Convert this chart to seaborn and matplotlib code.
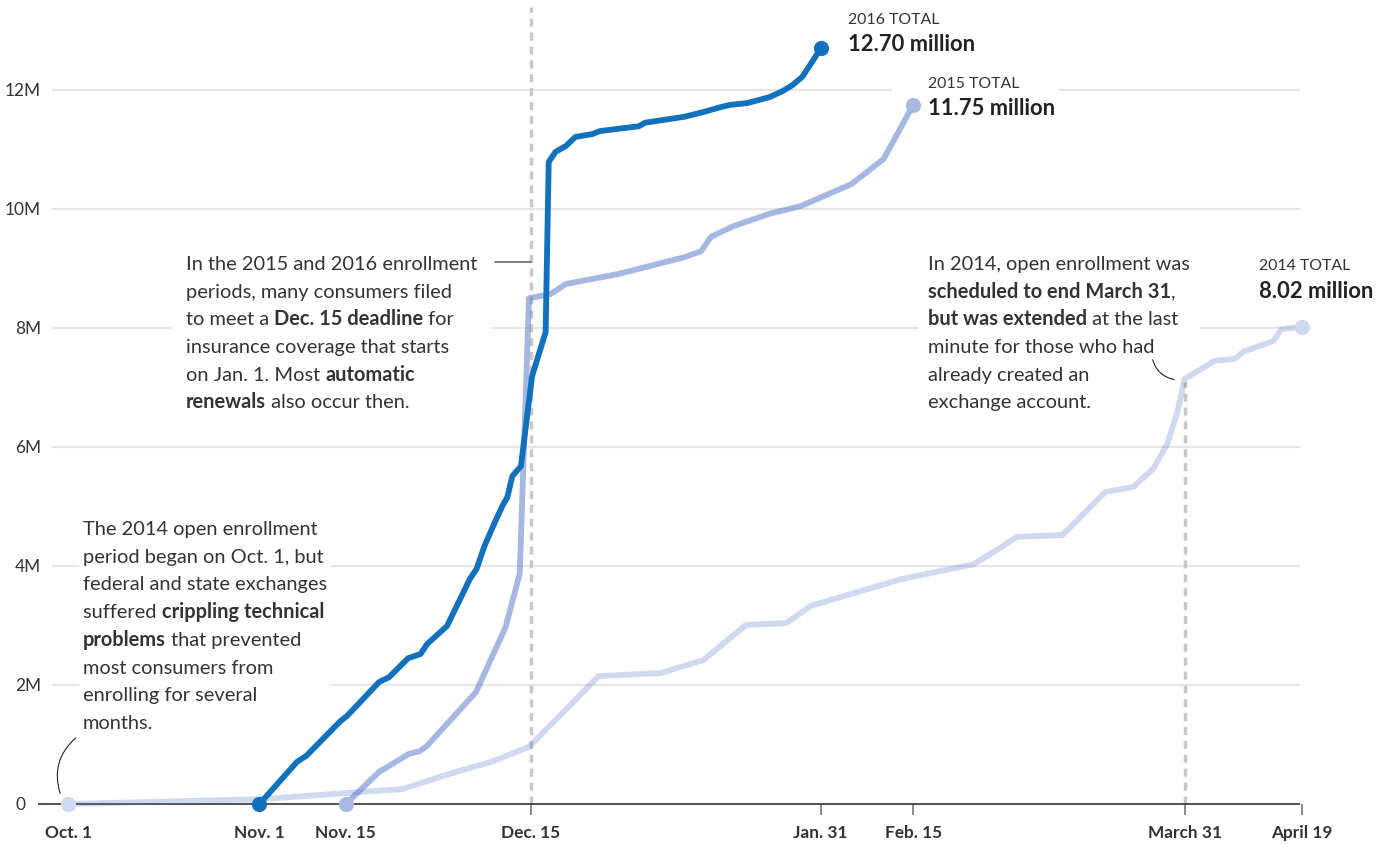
import numpy as np
import pandas as pd
import matplotlib
matplotlib.use('Agg')
import matplotlib.pyplot as plt
import matplotlib.transforms as mtransforms
from matplotlib.patches import Rectangle
import seaborn as sns

# days counted from Oct. 1, enrollment in millions
days_2014 = [0, 31, 54.1, 63.2, 68.6, 74.7, 86.0, 96.0, 103.0, 109.9, 116.4, 120.4, 135.1, 146.8, 150.9,
             153.8, 161.2, 168.1, 172.7, 175.9, 178.2, 179.9, 181, 185.9, 189.1, 190.7, 195.4, 196.7, 200]
enr_2014 = [0, 0.08, 0.25, 0.55, 0.71, 0.96, 2.15, 2.20, 2.42, 3.01, 3.04, 3.33, 3.78, 4.03, 4.29,
            4.49, 4.52, 5.24, 5.33, 5.63, 6.05, 6.61, 7.14, 7.45, 7.48, 7.61, 7.78, 7.98, 8.02]

days_2015 = [45, 50.4, 55.2, 57.0, 58.1, 66.1, 70.9, 73.2, 74.7, 78.2, 80.7, 89.3, 99.9, 102.6, 104.2,
             107.8, 113.7, 118.8, 127.0, 132.2, 137]
enr_2015 = [0, 0.54, 0.84, 0.89, 0.97, 1.88, 2.97, 3.87, 8.50, 8.57, 8.74, 8.91, 9.19, 9.29, 9.53,
            9.71, 9.92, 10.05, 10.42, 10.84, 11.75]

days_2016 = [31, 37.1, 38.6, 44.1, 45.2, 50.4, 52.0, 55.1, 57.1, 58.2, 61.4, 63.8, 65.1, 66.2, 67.5,
             69.4, 70.4, 71.2, 72.0, 73.4, 75.2, 77.4, 77.9, 79.0, 80.7, 82.2, 85.0, 86.2, 92.5, 93.5,
             99.9, 103.0, 105.7, 107.3, 110.1, 113.7, 115.8, 117.4, 119.0, 120.6, 122]
enr_2016 = [0, 0.71, 0.81, 1.39, 1.48, 2.05, 2.13, 2.45, 2.52, 2.69, 2.99, 3.50, 3.78, 3.95, 4.34,
            4.79, 5.01, 5.16, 5.51, 5.68, 7.19, 7.93, 10.79, 10.96, 11.06, 11.21, 11.26, 11.31, 11.39, 11.45,
            11.55, 11.63, 11.71, 11.75, 11.78, 11.88, 11.98, 12.08, 12.22, 12.47, 12.70]

tick_days = [0, 31, 45, 75, 122, 137, 181, 200]
tick_labels = ['Oct. 1', 'Nov. 1', 'Nov. 15', 'Dec. 15', 'Jan. 31', 'Feb. 15', 'March 31', 'April 19']
grid_vals = [2, 4, 6, 8, 10, 12]
ylabels = ['2M', '4M', '6M', '8M', '10M', '12M']

W, H = 1398, 845
X0, SX = 68.3, 6.167   # pixel of Oct. 1, pixels per day
Y0, SY = 805, 59.5     # pixel of zero, pixels per million
TEXT = '#333333'

sns.set_theme(style='white')
plt.rcParams['font.family'] = ['Lato', 'DejaVu Sans']

fig = plt.figure(figsize=(W / 100, H / 100), dpi=100)
ax = fig.add_axes([0, 0, 1, 1])
ax.set_xlim(-X0 / SX, (W - X0) / SX)
ax.set_ylim((Y0 - H) / SY, Y0 / SY)
ax.axis('off')
r = fig.canvas.get_renderer()


def pxd(px):
    return (px - X0) / SX


def fx(px):
    return px / W


def fy(py):
    return 1 - py / H


# grid and axis
ax.hlines(grid_vals, pxd(52), pxd(1300), color='#e6e6e6', lw=1.6, zorder=1)
ax.hlines(0, pxd(38), pxd(1300), color='#333333', lw=1.2, zorder=2.5)
for d in tick_days[3:]:
    ax.vlines(d, -11 / SY, 0, color='#777777', lw=1.2, zorder=2)
ax.vlines(75, 0, (Y0 - 8) / SY, colors='#c8c8c8', lw=2.5, linestyles=(0, (2.3, 1.7)), zorder=2.2)
ax.vlines(181, 0, 7.1, colors='#c8c8c8', lw=2.5, linestyles=(0, (2.3, 1.7)), zorder=2.2)

for d, lab in zip(tick_days, tick_labels):
    ax.text(d, (Y0 - 833) / SY, lab, ha='center', va='center', fontsize=12.4,
            fontweight='bold', color=TEXT)
for v, lab in zip(grid_vals, ylabels):
    fig.text(fx(41), fy(Y0 - v * SY), lab, ha='right', va='center', fontsize=12.4, color=TEXT)
fig.text(fx(26), fy(Y0), '0', ha='right', va='center', fontsize=12.4, color=TEXT)

# series
series = [
    ('2014', days_2014, enr_2014, '#5577c8', 0.28, '#cfd9f0'),
    ('2015', days_2015, enr_2015, '#5577c8', 0.52, '#a8bae3'),
    ('2016', days_2016, enr_2016, '#1271bc', 1.0, '#1271bc'),
]
for name, dd, vv, col, al, mcol in series:
    df = pd.DataFrame({'day': dd, 'enrolled': vv})
    sns.lineplot(data=df, x='day', y='enrolled', sort=False, estimator=None, color=col,
                 alpha=al, lw=4.2, ax=ax, zorder=3, solid_joinstyle='round', solid_capstyle='round')
    ax.scatter([dd[0], dd[-1]], [vv[0], vv[-1]], s=120, color=mcol, zorder=4, linewidths=0)


def block(x, yc, lines, size=14.4, step=27.7, pad=10):
    boxes = []
    for i, parts in enumerate(lines):
        xx = x
        for s, b in parts:
            t = fig.text(fx(xx), fy(yc + i * step + 6), s, fontsize=size,
                         fontweight='bold' if b else 'normal', color=TEXT, va='baseline', ha='left')
            bb = t.get_window_extent(renderer=r)
            xx += bb.width
            boxes.append(bb)
    x0 = min(b.x0 for b in boxes) - pad
    x1 = max(b.x1 for b in boxes) + pad
    y0 = min(b.y0 for b in boxes) - pad
    y1 = max(b.y1 for b in boxes) + pad
    ax.add_patch(Rectangle((x0, y0), x1 - x0, y1 - y0, transform=mtransforms.IdentityTransform(),
                           facecolor='white', edgecolor='none', zorder=1.5))


block(83, 529, [
    [('The 2014 open enrollment', 0)],
    [('period began on Oct. 1, but', 0)],
    [('federal and state exchanges', 0)],
    [('suffered ', 0), ('crippling technical', 1)],
    [('problems', 1), (' that prevented', 0)],
    [('most consumers from', 0)],
    [('enrolling for several', 0)],
    [('months.', 0)],
], pad=4)
block(186, 264, [
    [('In the 2015 and 2016 enrollment', 0)],
    [('periods, many consumers filed', 0)],
    [('to meet a ', 0), ('Dec. 15 deadline', 1), (' for', 0)],
    [('insurance coverage that starts', 0)],
    [('on Jan. 1. Most ', 0), ('automatic', 1)],
    [('renewals', 1), (' also occur then.', 0)],
], pad=14)
block(928, 264, [
    [('In 2014, open enrollment was', 0)],
    [('scheduled to end March 31', 1), (',', 0)],
    [('but was extended', 1), (' at the last', 0)],
    [('minute for those who had', 0)],
    [('already created an', 0)],
    [('exchange account.', 0)],
])

# totals
block(848, 18, [[('2016 TOTAL', 0)]], size=11.4, pad=4)
fig.text(fx(848), fy(44 + 7), '12.70 million', fontsize=15.8, fontweight='bold', color='#222222', va='baseline')
block(928, 82, [[('2015 TOTAL', 0)]], size=11.4, pad=4)
t = fig.text(fx(928), fy(108 + 7), '11.75 million', fontsize=15.8, fontweight='bold', color='#222222', va='baseline')
bb = t.get_window_extent(renderer=r)
ax.add_patch(Rectangle((bb.x0 - 36, bb.y0 - 6), bb.width + 40, bb.height + 40,
                       transform=mtransforms.IdentityTransform(), facecolor='white', edgecolor='none', zorder=1.5))
block(1259, 264, [[('2014 TOTAL', 0)]], size=11.4, pad=4)
fig.text(fx(1259), fy(291 + 7), '8.02 million', fontsize=15.8, fontweight='bold', color='#222222', va='baseline')

# leader lines
ax.annotate('', xy=(61, H - 797), xytext=(78, H - 737), xycoords='figure pixels', textcoords='figure pixels',
            arrowprops=dict(arrowstyle='-', connectionstyle='arc3,rad=0.35', color='#222222', lw=0.8))
ax.annotate('', xy=(1177, H - 381), xytext=(1152, H - 358), xycoords='figure pixels', textcoords='figure pixels',
            arrowprops=dict(arrowstyle='-', connectionstyle='arc3,rad=0.35', color='#222222', lw=0.8))
ax.plot([pxd(495), 75], [(Y0 - 263) / SY] * 2, color='#666666', lw=1.2, zorder=5)

fig.savefig('out.png', dpi=100)
